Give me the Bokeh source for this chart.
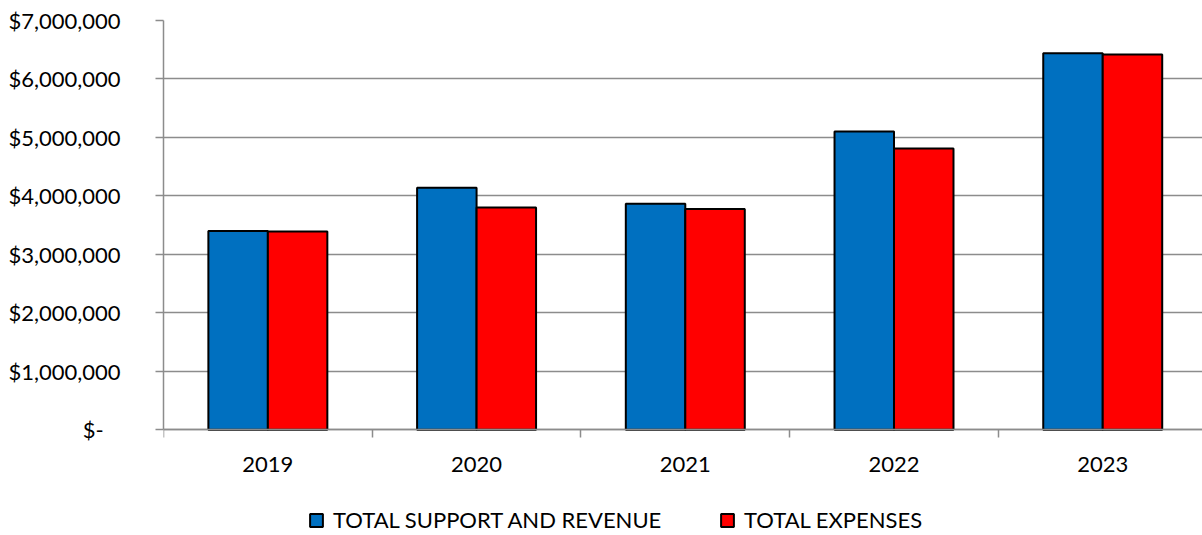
from bokeh.plotting import figure
from bokeh.models import (Range1d, FixedTicker, NumeralTickFormatter, Legend,
                          LegendItem, ColumnDataSource)
from bokeh.embed import file_html
from bokeh.resources import INLINE

years = ["2019", "2020", "2021", "2022", "2023"]
support_revenue = [3400000, 4140000, 3865000, 5100000, 6440000]
expenses = [3390000, 3800000, 3775000, 4810000, 6420000]
series_names = ["TOTAL SUPPORT AND REVENUE", "TOTAL EXPENSES"]
series_colors = ["#0070C0", "#FF0000"]
y_ticks = [0, 1000000, 2000000, 3000000, 4000000, 5000000, 6000000, 7000000]

FONT = "Lato"
GRAY = "#8C8C8C"
BAR_W = 0.285
Y_MAX = 7000000
# the frame runs below zero so that the category axis and the legend sit inside it
Y_MIN = -Y_MAX * 105.7 / 409.3

centers = [i + 0.5 for i in range(len(years))]
src = ColumnDataSource(dict(
    year=years,
    x1=[c - BAR_W / 2 for c in centers],
    x2=[c + BAR_W / 2 for c in centers],
    support=support_revenue,
    expenses=expenses,
))

p = figure(frame_width=1039, frame_height=515,
           x_range=Range1d(0, 4.978), y_range=Range1d(Y_MIN, Y_MAX),
           output_backend="svg", toolbar_location=None,
           min_border_left=163, min_border_right=0, min_border_top=20,
           min_border_bottom=0)
p.outline_line_color = None
p.background_fill_color = "white"

r1 = p.vbar(x="x1", top="support", bottom=0, width=BAR_W, source=src,
            fill_color=series_colors[0], line_color="black", line_width=2)
r2 = p.vbar(x="x2", top="expenses", bottom=0, width=BAR_W, source=src,
            fill_color=series_colors[1], line_color="black", line_width=2)

# grid
p.xgrid.grid_line_color = None
p.ygrid.grid_line_color = GRAY
p.ygrid.grid_line_width = 1.5
p.ygrid.ticker = FixedTicker(ticks=y_ticks)

# y axis
ya = p.yaxis[0]
ya.ticker = FixedTicker(ticks=y_ticks)
ya.bounds = (0, Y_MAX)
ya.formatter = NumeralTickFormatter(format="$0,0")
ya.major_label_overrides = {0: "$-\u00a0\u00a0\u00a0"}
ya.major_tick_out = 8
ya.major_tick_in = 0
ya.minor_tick_line_color = None
ya.major_tick_line_color = GRAY
ya.major_tick_line_width = 1.5
ya.axis_line_color = GRAY
ya.axis_line_width = 1.5
ya.major_label_standoff = 35
ya.major_label_text_font = FONT
ya.major_label_text_font_size = "22px"
ya.major_label_text_color = "black"

# x axis, drawn at y = 0
xa = p.xaxis[0]
xa.fixed_location = 0
xa.ticker = FixedTicker(ticks=centers, minor_ticks=list(range(len(years) + 1)))
xa.major_label_overrides = {c: y for c, y in zip(centers, years)}
xa.major_tick_line_color = None
xa.minor_tick_out = 8
xa.minor_tick_in = 0
xa.minor_tick_line_color = GRAY
xa.minor_tick_line_width = 1.5
xa.axis_line_color = GRAY
xa.axis_line_width = 1.5
xa.major_label_standoff = 19
xa.major_label_text_font = FONT
xa.major_label_text_font_size = "22px"
xa.major_label_text_color = "black"

legend = Legend(items=[LegendItem(label=series_names[0], renderers=[r1]),
                       LegendItem(label=series_names[1], renderers=[r2])],
                location=(145, 2), orientation="horizontal",
                glyph_width=16, glyph_height=16, label_standoff=9,
                label_width=337, spacing=49, padding=0, margin=0,
                border_line_color=None, background_fill_alpha=0,
                label_text_font=FONT, label_text_font_size="22px",
                label_text_color="black", label_height=16)
p.add_layout(legend)

open("out.html", "w").write(file_html(p, INLINE))
